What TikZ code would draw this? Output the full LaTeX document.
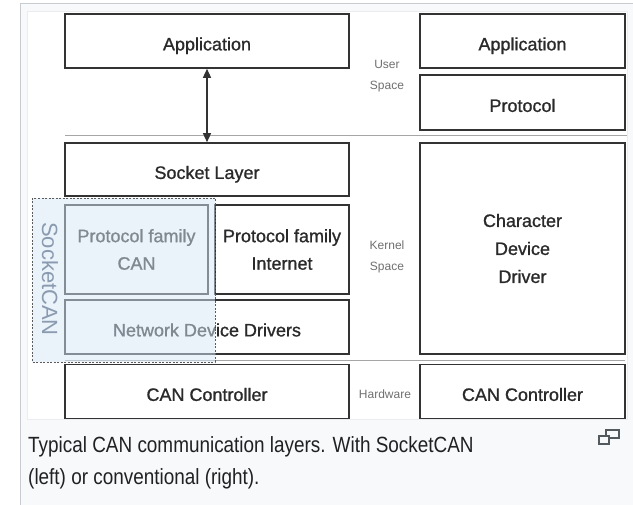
\documentclass[tikz,border=0pt]{standalone}
\usepackage{fontspec}
\setmainfont{Liberation Sans}
\newfontfamily\boxfont[FakeBold=1]{Liberation Sans}
\usetikzlibrary{arrows.meta}
\definecolor{frameline}{HTML}{C8CCD1}
\definecolor{framebg}{HTML}{F8F9FA}
\definecolor{imgline}{HTML}{EAECF0}
\definecolor{boxline}{HTML}{333333}
\definecolor{boxtext}{HTML}{2A2A2A}
\definecolor{lbltext}{HTML}{707070}
\definecolor{ovfill}{HTML}{D6E6F7}
\definecolor{ovtext}{HTML}{8A9BB0}
\definecolor{captext}{HTML}{202122}
\definecolor{icon}{HTML}{54595D}
\tikzset{
  layerbox/.style={draw=boxline, line width=1.6pt, fill=white, inner sep=0pt,
    text=boxtext, align=center, font=\boxfont\fontsize{18}{27.5}\selectfont},
  oneline/.style={text height=18.8pt, text depth=0pt},
  spacelbl/.style={text=lbltext, align=center, inner sep=0pt,
    font=\fontsize{12}{21}\selectfont},
  sepline/.style={draw=gray!70, line width=1pt},
  overlay/.style={draw=boxline!80, dash pattern=on 2pt off 1.5pt, line width=0.9pt,
    fill=ovfill, fill opacity=0.5},
  captionstyle/.style={text=captext, inner sep=0pt, anchor=base west,
    font=\fontsize{22}{24}\selectfont},
  biarrow/.style={draw=boxline, line width=1.4pt,
    {Triangle[length=9pt,width=8pt]}-{Triangle[length=9pt,width=8pt]}}
}
\begin{document}
\begin{tikzpicture}[x=1pt,y=-1pt]
\useasboundingbox (0,0) rectangle (633,505);
% frames
\fill[white] (0,0) rectangle (633,505);
\draw[frameline, fill=framebg, line width=1pt] (20,4) rectangle (645,520);
\draw[imgline, fill=white, line width=1pt] (27,12) rectangle (627,420);
% separators
\draw[sepline] (65,136) -- (627,136);
\draw[sepline] (65,361) -- (625,361);
% left stack
\node[layerbox, oneline, minimum width=284pt, minimum height=54pt] (appL) at (207,41) {Application};
\node[layerbox, oneline, minimum width=284pt, minimum height=53pt] (sock) at (207,169.5) {Socket Layer};
\node[layerbox, minimum width=143pt, minimum height=89pt] (pfcan) at (136.5,249.5) {Protocol family\\CAN};
\node[layerbox, minimum width=134pt, minimum height=89pt] (pfinet) at (282,249.5) {Protocol family\\Internet};
\node[layerbox, oneline, minimum width=284pt, minimum height=54pt] (ndd) at (207,327) {Network Device Drivers};
\node[layerbox, oneline, minimum width=284pt, minimum height=54pt] (canL) at (207,391.5) {CAN Controller};
% right stack
\node[layerbox, oneline, minimum width=205pt, minimum height=54pt] (appR) at (522.5,41) {Application};
\node[layerbox, oneline, minimum width=205pt, minimum height=55pt] (proto) at (522.5,102.5) {Protocol};
\node[layerbox, minimum width=205pt, minimum height=211pt, font=\boxfont\fontsize{18}{28}\selectfont] (cdd) at (522.5,248.5) {Character\\Device\\Driver};
\node[layerbox, oneline, minimum width=205pt, minimum height=54pt] (canR) at (522.5,391.5) {CAN Controller};
% arrow
\draw[biarrow] (appL.south) -- (sock.north);
% space labels
\node[spacelbl] (user) at (387,76) {User\\Space};
\node[spacelbl] (kernel) at (387,257) {Kernel\\Space};
\node[spacelbl] (hw) at (385,394) {Hardware};
% SocketCAN overlay
\draw[overlay] (32,198) rectangle (215,362);
\node[text=ovtext, rotate=-90, inner sep=0pt, font=\fontsize{22}{24}\selectfont] (scan) at (50,279) {SocketCAN};
% caption
\node[captionstyle] (cap1) at (28,453) {\scalebox{0.86}[1]{Typical CAN communication layers. With SocketCAN}};
\node[captionstyle] (cap2) at (28,485) {\scalebox{0.86}[1]{(left) or conventional (right).}};
% expand icon
\draw[icon, line width=1.2pt, fill=framebg] (606,430) rectangle (619,438);
\draw[icon, line width=1.2pt, fill=framebg] (599,436) rectangle (609,444);
\end{tikzpicture}
\end{document}
